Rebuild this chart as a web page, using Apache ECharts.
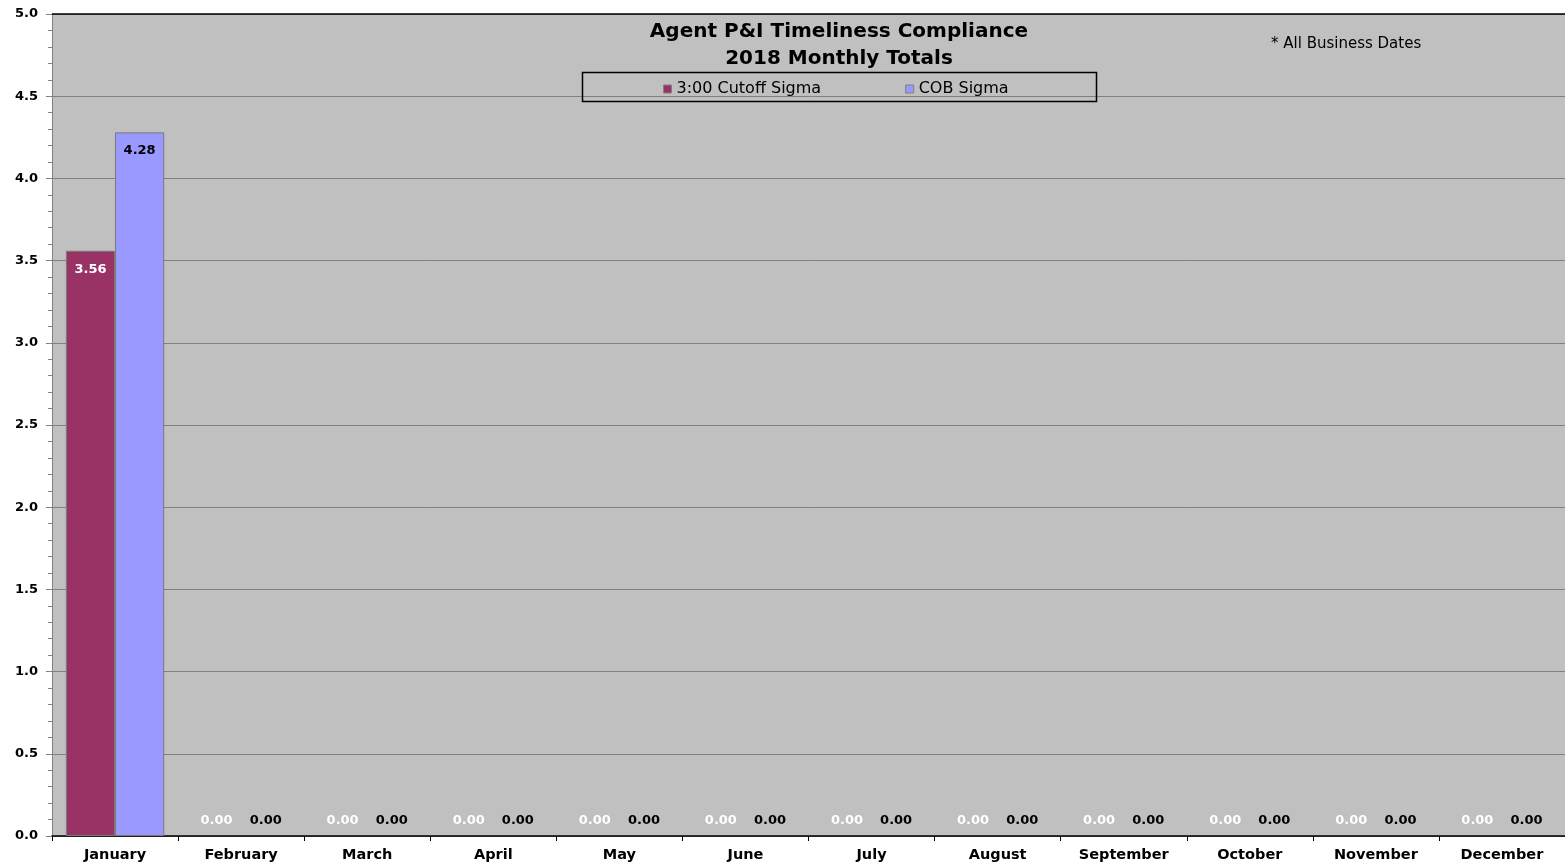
<!DOCTYPE html>
<html>
<head>
<meta charset="utf-8">
<script src="https://cdn.jsdelivr.net/npm/echarts@6/dist/echarts.min.js"></script>
<style>html,body{margin:0;padding:0;background:#fff;}#c{width:1565px;height:867px;}</style>
</head>
<body>
<div id="c"></div>
<script>
var categories = ['January','February','March','April','May','June','July','August','September','October','November','December'];
var cutoffSigma = [3.56,0,0,0,0,0,0,0,0,0,0,0];
var cobSigma = [4.28,0,0,0,0,0,0,0,0,0,0,0];
var seriesNames = ['3:00 Cutoff Sigma','COB Sigma'];
var titleLines = ['Agent P&I Timeliness Compliance','2018 Monthly Totals'];
var noteText = '* All Business Dates';

var FONT = '"DejaVu Sans", "Liberation Sans", Arial, sans-serif';

function mk(vals){
  return vals.map(function(v){
    return {
      value: v,
      itemStyle: v > 0 ? {} : {borderWidth: 0},
      label: v > 0 ? {position:'insideTop', distance: 12} : {position:'top', distance: 9}
    };
  });
}

var chart = echarts.init(document.getElementById('c'), null, {renderer:'canvas'});
chart.setOption({
  animation:false,
  backgroundColor:'#ffffff',
  title:{
    text: titleLines.join('\n'),
    left: 834, top: 13, textAlign:'center',
    textStyle:{fontFamily:FONT, fontSize:20, fontWeight:'bold', color:'#000', lineHeight:27}
  },
  graphic:[
    {type:'rect', shape:{x:582.5,y:72.5,width:514,height:29}, style:{fill:'none', stroke:'#000', lineWidth:1.5}, z:10},
    {type:'text', left:1271, top:37, style:{text:noteText, font:'15px '+FONT, fill:'#000'}, z:10}
  ],
  legend:{
    data: seriesNames,
    left: 658, top: 76,
    itemWidth: 8, itemHeight: 8, itemGap: 84,
    icon:'rect',
    textStyle:{fontFamily:FONT, fontSize:16, color:'#000', padding:[0,0,0,0]},
    itemStyle:{borderColor:'#808080', borderWidth:1}
  },
  grid:{left:52, right:0, top:14, bottom:31, show:true, backgroundColor:'#c0c0c0', borderWidth:0},
  xAxis:{
    type:'category', data:categories,
    axisLine:{show:true, lineStyle:{color:'#000', width:1.5}},
    axisTick:{show:true, alignWithLabel:false, length:5, lineStyle:{color:'#000'}},
    axisLabel:{fontFamily:FONT, fontSize:14.5, fontWeight:'bold', color:'#000', margin:12},
    splitLine:{show:false}
  },
  yAxis:{
    type:'value', min:0, max:5, interval:0.5,
    axisLine:{show:true, lineStyle:{color:'#808080', width:1}},
    axisTick:{show:true, length:6, lineStyle:{color:'#808080'}},
    minorTick:{show:true, splitNumber:5, length:4, lineStyle:{color:'#808080'}},
    axisLabel:{fontFamily:FONT, fontSize:13, fontWeight:'bold', color:'#000', margin:14,
      formatter:function(v){return v.toFixed(1);}},
    splitLine:{show:true, lineStyle:{color:'#808080', width:1}}
  },
  series:[
    {
      name:seriesNames[0], type:'bar', data:mk(cutoffSigma),
      barGap:'0%', barCategoryGap:'22%',
      itemStyle:{color:'#993366', borderColor:'#7a7a7a', borderWidth:1},
      label:{show:true, formatter:function(p){return p.value.toFixed(2);}, color:'#ffffff',
        fontFamily:FONT, fontSize:13, fontWeight:'bold'}
    },
    {
      name:seriesNames[1], type:'bar', data:mk(cobSigma),
      barGap:'0%', barCategoryGap:'22%',
      itemStyle:{color:'#9999ff', borderColor:'#7a7a7a', borderWidth:1},
      label:{show:true, formatter:function(p){return p.value.toFixed(2);}, color:'#000000',
        fontFamily:FONT, fontSize:13, fontWeight:'bold'},
      markLine:{silent:true, symbol:'none', label:{show:false}, lineStyle:{color:'#000', width:1.5, type:'solid'}, data:[{yAxis:5}]}
    }
  ]
});
</script>
</body>
</html>
